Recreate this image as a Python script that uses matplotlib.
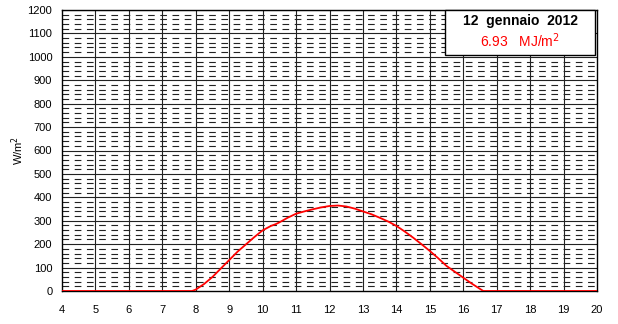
import numpy as np
import matplotlib.pyplot as plt
from matplotlib.patches import Rectangle

plt.rcParams['font.family'] = ['Liberation Sans', 'DejaVu Sans']

# hourly radiation curve
hours = [4, 7.0, 7.89, 8.0, 8.25, 8.5, 8.75, 9.0, 9.25, 9.5, 9.75, 10.0, 10.25, 10.4,
         10.5, 10.75, 11.0, 11.25, 11.5, 11.75, 12.0, 12.25, 12.5, 12.75, 13.0,
         13.25, 13.5, 13.75, 14.0, 14.25, 14.5, 14.75, 15.0, 15.25, 15.5, 15.75,
         16.0, 16.25, 16.5, 16.6, 17, 20]
watts = [0, 0, 0, 6, 30, 60, 96, 132, 168, 199, 230, 259, 278, 286,
         293, 313, 330, 340, 349, 357, 363, 365, 361, 352, 340,
         328, 313, 297, 278, 254, 228, 200, 171, 140, 107, 82,
         57, 32, 9, 0, 0, 0]

day_label = "12  gennaio  2012"
energy_label = "6.93   MJ/m$^2$"
x_ticks = list(range(4, 21))
y_ticks = list(range(0, 1201, 100))

W, H = 618, 324
fig = plt.figure(figsize=(W / 100, H / 100), dpi=100)
ax = fig.add_axes([62 / W, 1 - 291 / H, 535 / W, 281 / H])

ax.set_xlim(4, 20)
ax.set_ylim(0, 1200)

# minor dashed lines every 20
for y in range(20, 1200, 20):
    if y % 100 != 0:
        ax.axhline(y, color='#222222', lw=0.8, dashes=(6, 5), zorder=1)
# major lines
for y in y_ticks[1:]:
    ax.axhline(y, color='#222222', lw=0.8, zorder=1)
for x in x_ticks[1:-1]:
    ax.axvline(x, color='#222222', lw=0.8, zorder=1)

ax.plot(hours, watts, color='red', lw=1.3, zorder=3)

ax.set_xticks(x_ticks)
ax.set_yticks(y_ticks)
ax.tick_params(axis='x', length=0, labelsize=8, pad=10)
ax.tick_params(axis='y', length=0, labelsize=8, pad=7)
for s in ax.spines.values():
    s.set_linewidth(1.0)
    s.set_color('black')

fig.text(18 / W, 1 - 150 / H, "W/m$^2$", rotation=90, ha='center', va='center', fontsize=8)

# legend box in pixel coordinates
fig.add_artist(Rectangle((445 / W, 1 - 55 / H), 150 / W, 45 / H, transform=fig.transFigure,
                         facecolor='white', edgecolor='black', lw=1.0, zorder=5))
fig.text(520 / W, 1 - 21 / H, day_label, ha='center', va='center',
         fontsize=10, fontweight='bold', zorder=6)
fig.text(520 / W, 1 - 41 / H, energy_label, ha='center', va='center',
         fontsize=10, color='red', zorder=6)

fig.savefig('out.png', dpi=100)
